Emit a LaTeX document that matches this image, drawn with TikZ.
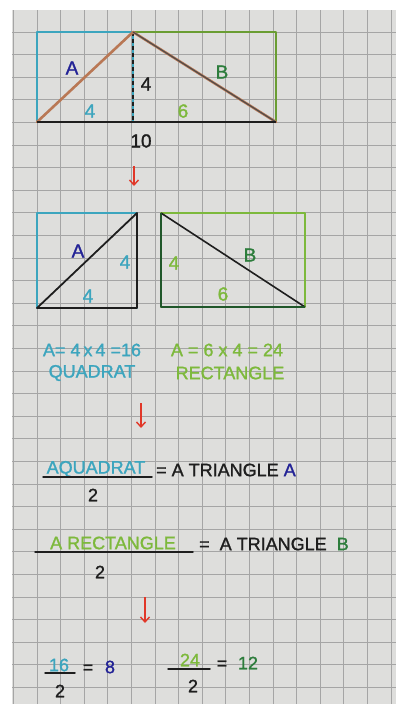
\documentclass[tikz,border=0pt]{standalone}
\usepackage{fontspec}
\setmainfont{Liberation Sans}[FakeBold=1.3]
\usetikzlibrary{arrows.meta}
\definecolor{paper}{RGB}{222,222,220}
\definecolor{gridc}{RGB}{165,165,165}
\definecolor{tealc}{RGB}{60,165,190}
\definecolor{lgreen}{RGB}{125,185,60}
\definecolor{dgreen}{RGB}{45,125,60}
\definecolor{dblue}{RGB}{35,35,150}
\definecolor{redarr}{RGB}{225,55,40}
\definecolor{brownc}{RGB}{185,120,85}
\definecolor{ink}{RGB}{30,30,30}
\begin{document}
\begin{tikzpicture}[x=1pt,y=-1pt,
  lbl/.style={inner sep=0pt, font=\fontsize{19}{19}\selectfont},
  big/.style={inner sep=0pt, font=\fontsize{18}{18}\selectfont},
  redarrow/.style={redarr, line width=1.4pt, -{Straight Barb[length=5pt,width=9pt]}},
  marker/.style={line width=1.6pt, line cap=round, line join=round},
  fracbar/.style={ink, line width=1.5pt, line cap=round}]
\useasboundingbox (0,0) rectangle (396,704);
\fill[white] (0,0) rectangle (396,704);
\fill[paper] (12,10) rectangle (396,704);
\foreach \i in {-1,...,15} \draw[gridc, line width=0.8pt] ({37+23.6*\i},10) -- ({37+23.6*\i},704);
\foreach \j in {0,...,29} \draw[gridc, line width=0.8pt] (12,{32+22.6*\j}) -- (396,{32+22.6*\j});

% ---- top figure ----
\coordinate (tl) at (37,32);
\coordinate (tm) at (133,32);
\coordinate (tr) at (276,32);
\coordinate (bl) at (37,122);
\coordinate (bm) at (133,122);
\coordinate (br) at (276,122);
\draw[marker, tealc] (bm) -- (bl) -- (tl) -- (tm);
\draw[marker, lgreen!85!black] (tm) -- (tr) -- (br) -- (bm);
\draw[marker, tealc] (tm) -- (bm);
\draw[ink, line width=1.6pt, dash pattern=on 4pt off 3pt] (tm) -- (bm);
\draw[marker, brownc, line width=2.6pt] (bl) -- (tm) -- (br);
\draw[ink!80, line width=1.1pt, line join=round] (tm) -- (br);
\draw[ink, line width=2.4pt] (bl) -- (br);
\node[lbl, dblue] (la1) at (72,68) {A};
\node[lbl, ink] (lh1) at (146,84) {4};
\node[lbl, dgreen] (lb1) at (222,72) {B};
\node[lbl, tealc] (lw1) at (90,111) {4};
\node[lbl, lgreen] (lw2) at (183,111) {6};
\node[lbl, ink] (lten) at (141,141) {10};

\coordinate (a1s) at (134,166);
\coordinate (a1e) at (134,186);
\draw[redarrow] (a1s) -- (a1e);

% ---- second row ----
\coordinate (sq1) at (37,213);
\coordinate (sq2) at (137,213);
\coordinate (sq3) at (137,308);
\coordinate (sq4) at (37,308);
\draw[marker, tealc] (sq1) rectangle (sq3);
\draw[ink, line width=1.8pt, line join=round] (sq4) -- (sq2) -- (sq3) -- cycle;
\coordinate (re1) at (161,213);
\coordinate (re2) at (305,213);
\coordinate (re3) at (305,307);
\coordinate (re4) at (161,307);
\draw[marker, lgreen] (re1) rectangle (re3);
\draw[ink, line width=1.6pt] (re1) -- (re3);
\draw[dgreen!70!black, line width=2.2pt, line join=round] (re1) -- (re4) -- (re3);
\node[lbl, dblue] (la2) at (78,251) {A};
\node[lbl, tealc] (lh2) at (125,262) {4};
\node[lbl, tealc] (lw3) at (88,296) {4};
\node[lbl, lgreen] (lh3) at (174,263) {4};
\node[lbl, dgreen] (lb2) at (250,255) {B};
\node[lbl, lgreen] (lw4) at (223,294) {6};

\node[big, tealc] (f1) at (92,350) {A= 4\,x\,4 =16};
\node[big, tealc] (q1) at (92,373) {QUADRAT};
\node[big, lgreen] (f2) at (227,350) {A = 6 x 4 = 24};
\node[big, lgreen] (q2) at (230,373) {RECTANGLE};

\coordinate (a2s) at (141,403);
\coordinate (a2e) at (141,428);
\draw[redarrow] (a2s) -- (a2e);

% ---- formulas ----
\node[big, tealc] (aq) at (96,469) {AQUADRAT};
\coordinate (bar1l) at (43,477);
\coordinate (bar1r) at (152,477);
\draw[fracbar] (bar1l) -- (bar1r);
\node[big, ink] (d1) at (93,495) {2};
\node[big, ink, anchor=west] (eq1) at (156,470) {= A TRIANGLE \textcolor{dblue}{A}};

\node[big, lgreen] (ar) at (113,543) {A RECTANGLE};
\coordinate (bar2l) at (35,552);
\coordinate (bar2r) at (193,552);
\draw[fracbar] (bar2l) -- (bar2r);
\node[big, ink] (d2) at (100,572) {2};
\node[big, ink, anchor=west] (eq2) at (199,544) {=\ \ A TRIANGLE \ \textcolor{dgreen}{B}};

\coordinate (a3s) at (145,597);
\coordinate (a3e) at (145,623);
\draw[redarrow] (a3s) -- (a3e);

% ---- results ----
\node[big, tealc] (n16) at (59,665) {16};
\coordinate (bar3l) at (45,673);
\coordinate (bar3r) at (75,673);
\draw[fracbar] (bar3l) -- (bar3r);
\node[big, ink] (d3) at (60,691) {2};
\node[big, ink] (eq3) at (88,669) {=};
\node[big, dblue] (r8) at (110,667) {8};

\node[big, lgreen] (n24) at (190,660) {24};
\coordinate (bar4l) at (168,669);
\coordinate (bar4r) at (210,669);
\draw[fracbar] (bar4l) -- (bar4r);
\node[big, ink] (d4) at (193,686) {2};
\node[big, ink] (eq4) at (222,665) {=};
\node[big, dgreen] (r12) at (248,663) {12};
\end{tikzpicture}
\end{document}
